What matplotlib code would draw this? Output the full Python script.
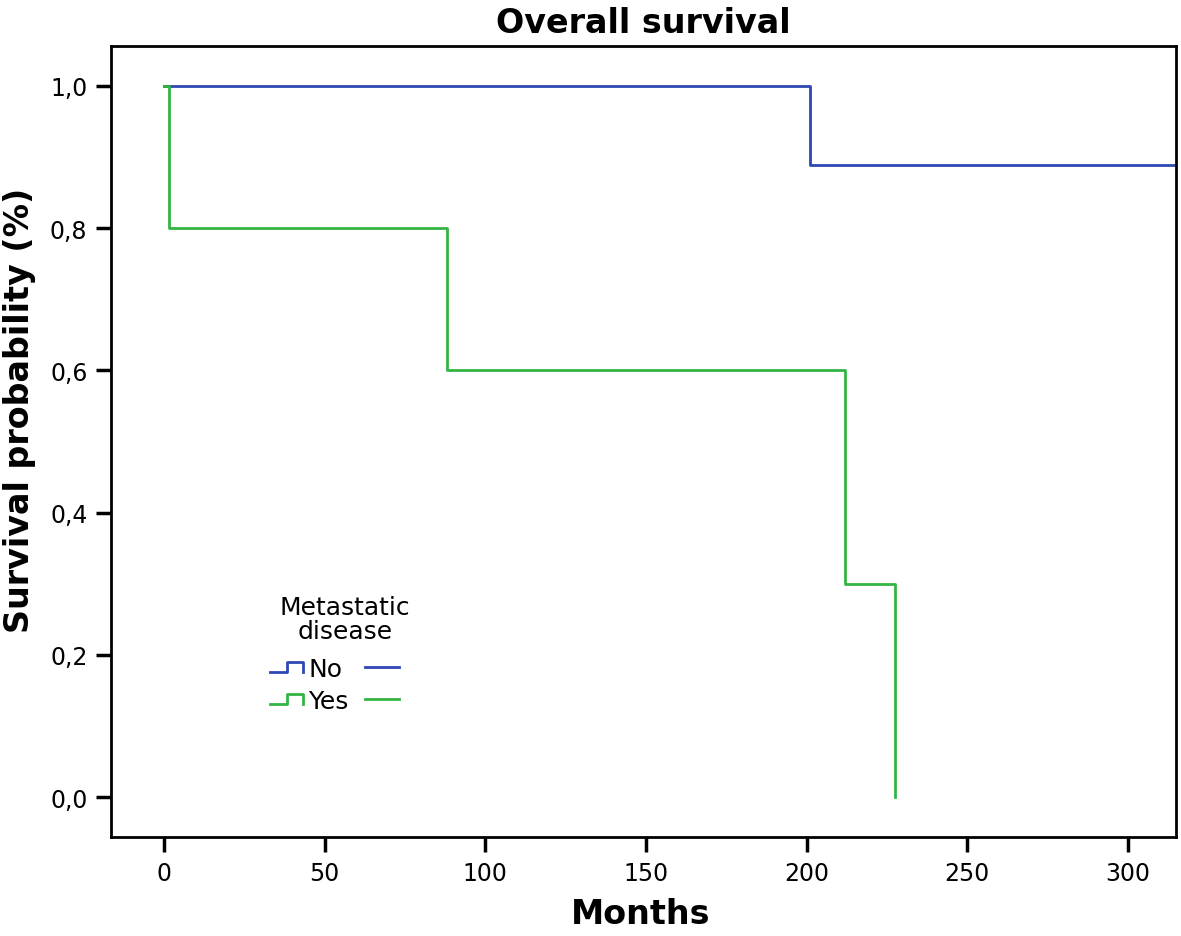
import matplotlib.pyplot as plt
from matplotlib.lines import Line2D

# Kaplan-Meier step data (months, survival)
no_times = [0, 201, 316]
no_surv = [1.0, 0.889, 0.889]
yes_times = [0, 1.5, 88, 212, 227.5]
yes_surv = [1.0, 0.8, 0.6, 0.3, 0.0]

groups = ['No', 'Yes']
colors = ['#2f47b4', '#33b443']

xticks = [0, 50, 100, 150, 200, 250, 300]
yticks = [0.0, 0.2, 0.4, 0.6, 0.8, 1.0]
ytick_labels = ['0,0', '0,2', '0,4', '0,6', '0,8', '1,0']

fig = plt.figure(figsize=(11.81, 9.37), dpi=100)
ax = fig.add_axes([0.094, 0.1057, 0.9018, 0.8441])

ax.step(no_times, no_surv, where='post', color=colors[0], lw=2)
ax.step(yes_times, yes_surv, where='post', color=colors[1], lw=2)

ax.set_xlim(-16.5, 315)
ax.set_ylim(-0.056, 1.056)
ax.set_xticks(xticks)
ax.set_yticks(yticks)
ax.set_yticklabels(ytick_labels)
ax.tick_params(axis='both', direction='out', length=11, width=2.5, labelsize=17, pad=6)
for s in ax.spines.values():
    s.set_linewidth(2)

ax.set_title('Overall survival', fontsize=24, fontweight='bold', pad=10)
ax.set_xlabel('Months', fontsize=24, fontweight='bold')
ax.set_ylabel('Survival probability (%)', fontsize=24, fontweight='bold')
ax.xaxis.set_label_coords(0.497, -0.097)
ax.yaxis.set_label_coords(-0.086, 0.54)
ax.xaxis.label.set_va('center')
ax.yaxis.label.set_va('center')

# custom SPSS-like legend
def ax_xy(px, py):
    return (px - 111) / 1065, (838 - py) / 791

tx, ty = ax_xy(345, 620)
ax.text(tx, ty, 'Metastatic\ndisease', transform=ax.transAxes, ha='center', va='center',
        fontsize=18, linespacing=1.0)
for i, (g, c) in enumerate(zip(groups, colors)):
    py = 668 + i * 32
    xs = [270, 287, 287, 303, 303]
    ys = [py + 5, py + 5, py - 5, py - 5, py + 5]
    pts = [ax_xy(a, b) for a, b in zip(xs, ys)]
    ax.add_line(Line2D([p[0] for p in pts], [p[1] for p in pts], color=c, lw=2,
                       transform=ax.transAxes))
    lx, ly = ax_xy(308, py + 2)
    ax.text(lx, ly, g, transform=ax.transAxes, ha='left', va='center', fontsize=18)
    a0 = ax_xy(365, py)
    a1 = ax_xy(399, py)
    ax.add_line(Line2D([a0[0], a1[0]], [a0[1], a1[1]], color=c, lw=2, transform=ax.transAxes))

fig.savefig('out.png', dpi=100)
